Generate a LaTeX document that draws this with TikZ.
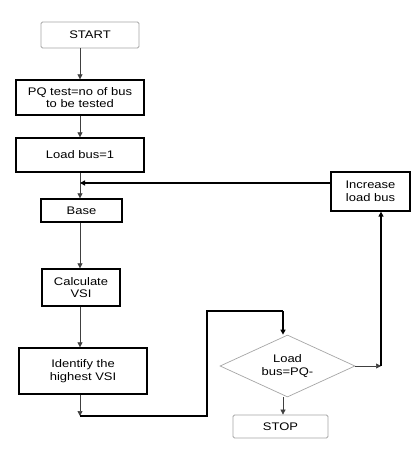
\documentclass[tikz,border=0pt]{standalone}
\usepackage{fontspec}
\setmainfont[FakeStretch=1.18]{Liberation Sans}
\usetikzlibrary{arrows.meta,shapes.geometric}
\begin{document}
\begin{tikzpicture}[x=1pt,y=-1pt,
  every node/.style={font=\fontsize{11}{12.5}\selectfont, align=center, inner sep=0pt},
  procbox/.style={draw=black, line width=1.3pt, minimum width=#1},
  termbox/.style={draw=gray!70, line width=0.8pt, rounded corners=1.5pt},
  decbox/.style={draw=gray!70, line width=0.7pt, diamond, aspect=2.2, minimum width=135pt, minimum height=62pt},
  thinarrow/.style={draw=black!75, line width=0.7pt, -{Triangle[length=5pt,width=5pt]}},
  thickline/.style={draw=black, line width=1.3pt},
  thickarrow/.style={draw=black, line width=1.3pt, -{Triangle[length=5pt,width=5pt]}}
]
\useasboundingbox (0,0) rectangle (416,452);
\fill[white] (0,0) rectangle (416,452);
% nodes
\node[termbox, minimum width=98pt, minimum height=26pt] (start) at (90,35) {START};
\node[procbox=128pt, minimum height=35pt] (pq) at (80,97.5) {PQ test=no of bus\\to be tested};
\node[procbox=128pt, minimum height=34pt] (load) at (80,155) {Load bus=1};
\node[procbox=81pt, minimum height=23pt] (base) at (81.5,210.5) {Base};
\node[procbox=78pt, minimum height=37pt] (calc) at (81,287.5) {Calculate\\VSI};
\node[procbox=128pt, minimum height=46pt] (ident) at (83,371) {Identify the\\highest VSI};
\node[procbox=79pt, minimum height=39pt] (inc) at (370.5,191.5) {Increase\\load bus};
\node[decbox] (dec) at (287.5,366) {Load\\bus=PQ-};
\node[termbox, minimum width=95pt, minimum height=23pt] (stop) at (280.5,426.5) {STOP};
% coordinates
\coordinate (col) at (80,0);
\coordinate (join) at (80,183);
\coordinate (c0) at (80,416);
\coordinate (c1) at (207,416);
\coordinate (c2) at (207,311);
\coordinate (c3) at (283,311);
\coordinate (c4) at (381,369);
% connectors
\draw[thinarrow] (start.south -| col) -- (pq.north -| col);
\draw[thinarrow] (pq.south -| col) -- (load.north -| col);
\draw[thinarrow] (load.south -| col) -- (base.north -| col);
\draw[thickarrow] (inc.west |- join) -- (join);
\draw[thinarrow] (base.south -| col) -- (calc.north -| col);
\draw[thinarrow] (calc.south -| col) -- (ident.north -| col);
\draw[thinarrow] (ident.south -| col) -- (c0);
\draw[thickline] (c0) -- (c1) -- (c2) -- (c3);
\draw[thickarrow] (c3) -- (dec.north -| c3);
\draw[thinarrow] (dec.south -| c3) -- (stop.north -| c3);
\draw[thinarrow] (dec.east) -- (dec.east -| c4);
\draw[thickarrow] (dec.east -| c4) -- (inc.south -| c4);
\end{tikzpicture}
\end{document}
